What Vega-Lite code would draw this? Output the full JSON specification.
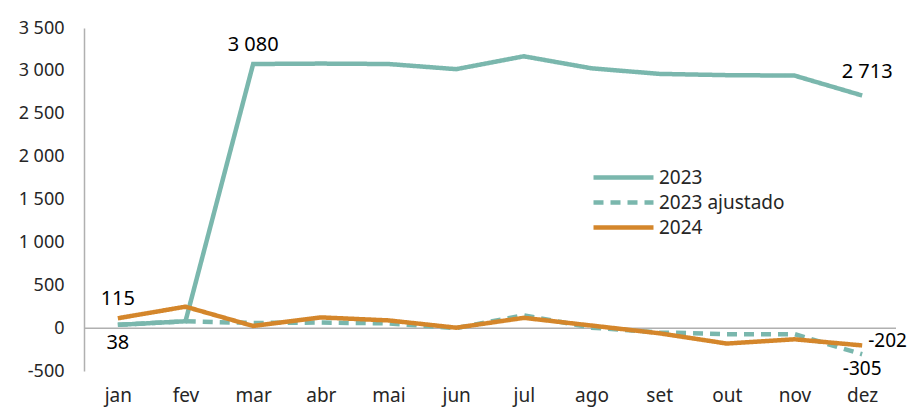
{
  "$schema": "https://vega.github.io/schema/vega-lite/v6.json",
  "width": 812,
  "height": 343,
  "autosize": {"type": "none"},
  "padding": {"left": 84, "top": 28, "right": 13, "bottom": 37},
  "background": "white",
  "config": {
    "view": {"stroke": null},
    "font": "Noto Sans",
    "locale": {"number": {"decimal": ",", "thousands": " ", "grouping": [3], "currency": ["", " €"], "minus": "-"}}
  },
  "data": {"values": [
    {"month": "jan", "series": "2023", "value": 38},
    {"month": "fev", "series": "2023", "value": 80},
    {"month": "mar", "series": "2023", "value": 3080},
    {"month": "abr", "series": "2023", "value": 3085},
    {"month": "mai", "series": "2023", "value": 3080},
    {"month": "jun", "series": "2023", "value": 3020},
    {"month": "jul", "series": "2023", "value": 3170},
    {"month": "ago", "series": "2023", "value": 3030},
    {"month": "set", "series": "2023", "value": 2965},
    {"month": "out", "series": "2023", "value": 2950},
    {"month": "nov", "series": "2023", "value": 2945},
    {"month": "dez", "series": "2023", "value": 2713},
    {"month": "jan", "series": "2023 ajustado", "value": 38},
    {"month": "fev", "series": "2023 ajustado", "value": 80},
    {"month": "mar", "series": "2023 ajustado", "value": 60},
    {"month": "abr", "series": "2023 ajustado", "value": 65},
    {"month": "mai", "series": "2023 ajustado", "value": 55},
    {"month": "jun", "series": "2023 ajustado", "value": 0},
    {"month": "jul", "series": "2023 ajustado", "value": 150},
    {"month": "ago", "series": "2023 ajustado", "value": 5},
    {"month": "set", "series": "2023 ajustado", "value": -50},
    {"month": "out", "series": "2023 ajustado", "value": -70},
    {"month": "nov", "series": "2023 ajustado", "value": -70},
    {"month": "dez", "series": "2023 ajustado", "value": -305},
    {"month": "jan", "series": "2024", "value": 115},
    {"month": "fev", "series": "2024", "value": 250},
    {"month": "mar", "series": "2024", "value": 25},
    {"month": "abr", "series": "2024", "value": 125},
    {"month": "mai", "series": "2024", "value": 90},
    {"month": "jun", "series": "2024", "value": 5},
    {"month": "jul", "series": "2024", "value": 120},
    {"month": "ago", "series": "2024", "value": 30},
    {"month": "set", "series": "2024", "value": -60},
    {"month": "out", "series": "2024", "value": -180},
    {"month": "nov", "series": "2024", "value": -130},
    {"month": "dez", "series": "2024", "value": -202}
  ]},
  "encoding": {
    "x": {"field": "month", "type": "nominal", "sort": null,
      "scale": {"type": "point", "padding": 0.5},
      "axis": {"title": null, "domain": false, "ticks": false, "labelAngle": 0, "labelFontSize": 19, "labelColor": "#262626", "labelPadding": 15, "labelFont": "Noto Sans"}},
    "y": {"field": "value", "type": "quantitative",
      "scale": {"domain": [-500, 3500], "nice": false, "zero": false},
      "axis": {"title": null, "values": [-500, 0, 500, 1000, 1500, 2000, 2500, 3000, 3500], "format": ",d", "grid": false, "ticks": false, "domain": true, "domainColor": "#b0b0b0", "domainWidth": 1.5, "labelFontSize": 18, "labelColor": "#262626", "labelPadding": 20, "labelFont": "Noto Sans"}}
  },
  "layer": [
    {
      "mark": {"type": "rule", "color": "#b0b0b0", "strokeWidth": 1.5},
      "data": {"values": [{"zero": 0}]},
      "encoding": {"y": {"field": "zero", "type": "quantitative"}, "x": null}
    },
    {
      "mark": {"type": "line", "strokeWidth": 4.5, "strokeCap": "butt"},
      "encoding": {
        "color": {"field": "series", "type": "nominal",
          "scale": {"domain": ["2023", "2023 ajustado", "2024"], "range": ["#7ab7ad", "#7ab7ad", "#d4862b"]},
          "legend": {"title": null, "orient": "none", "legendX": 527, "legendY": 137, "symbolType": "M-3,0H3", "symbolSize": 400, "symbolStrokeWidth": 4.5, "labelFontSize": 19, "labelColor": "#262626", "labelOffset": 23, "rowPadding": 2, "labelFont": "Noto Sans"}},
        "strokeDash": {"field": "series", "type": "nominal",
          "scale": {"domain": ["2023", "2023 ajustado", "2024"], "range": [[1, 0], [10, 7], [1, 0]]},
          "legend": {"title": null, "orient": "none", "legendX": 527, "legendY": 137, "symbolType": "M-3,0H3", "symbolSize": 400, "symbolStrokeWidth": 4.5, "labelFontSize": 19, "labelColor": "#262626", "labelOffset": 23, "rowPadding": 2, "labelFont": "Noto Sans"}},
        "order": {"field": "series", "sort": "descending"}
      }
    },
    {
      "transform": [{"filter": "(datum.series == '2023' && datum.month == 'mar') || (datum.series == '2024' && datum.month == 'jan')"}],
      "mark": {"type": "text", "dy": -19, "fontSize": 20, "color": "#000000"},
      "encoding": {"text": {"field": "value", "type": "quantitative", "format": ",d"}}
    },
    {
      "transform": [{"filter": "datum.series == '2023' && datum.month == 'dez'"}],
      "mark": {"type": "text", "dx": 5, "dy": -23, "fontSize": 20, "color": "#000000"},
      "encoding": {"text": {"field": "value", "type": "quantitative", "format": ",d"}}
    },
    {
      "transform": [{"filter": "datum.series == '2023' && datum.month == 'jan'"}],
      "mark": {"type": "text", "dy": 18, "fontSize": 20, "color": "#000000"},
      "encoding": {"text": {"field": "value", "type": "quantitative", "format": ",d"}}
    },
    {
      "transform": [{"filter": "datum.series == '2023 ajustado' && datum.month == 'dez'"}],
      "mark": {"type": "text", "dy": 15, "fontSize": 19, "color": "#000000"},
      "encoding": {"text": {"field": "value", "type": "quantitative", "format": ",d"}}
    },
    {
      "transform": [{"filter": "datum.series == '2024' && datum.month == 'dez'"}],
      "mark": {"type": "text", "dx": 6, "dy": -4, "align": "left", "fontSize": 19, "color": "#000000"},
      "encoding": {"text": {"field": "value", "type": "quantitative", "format": ",d"}}
    }
  ]
}
